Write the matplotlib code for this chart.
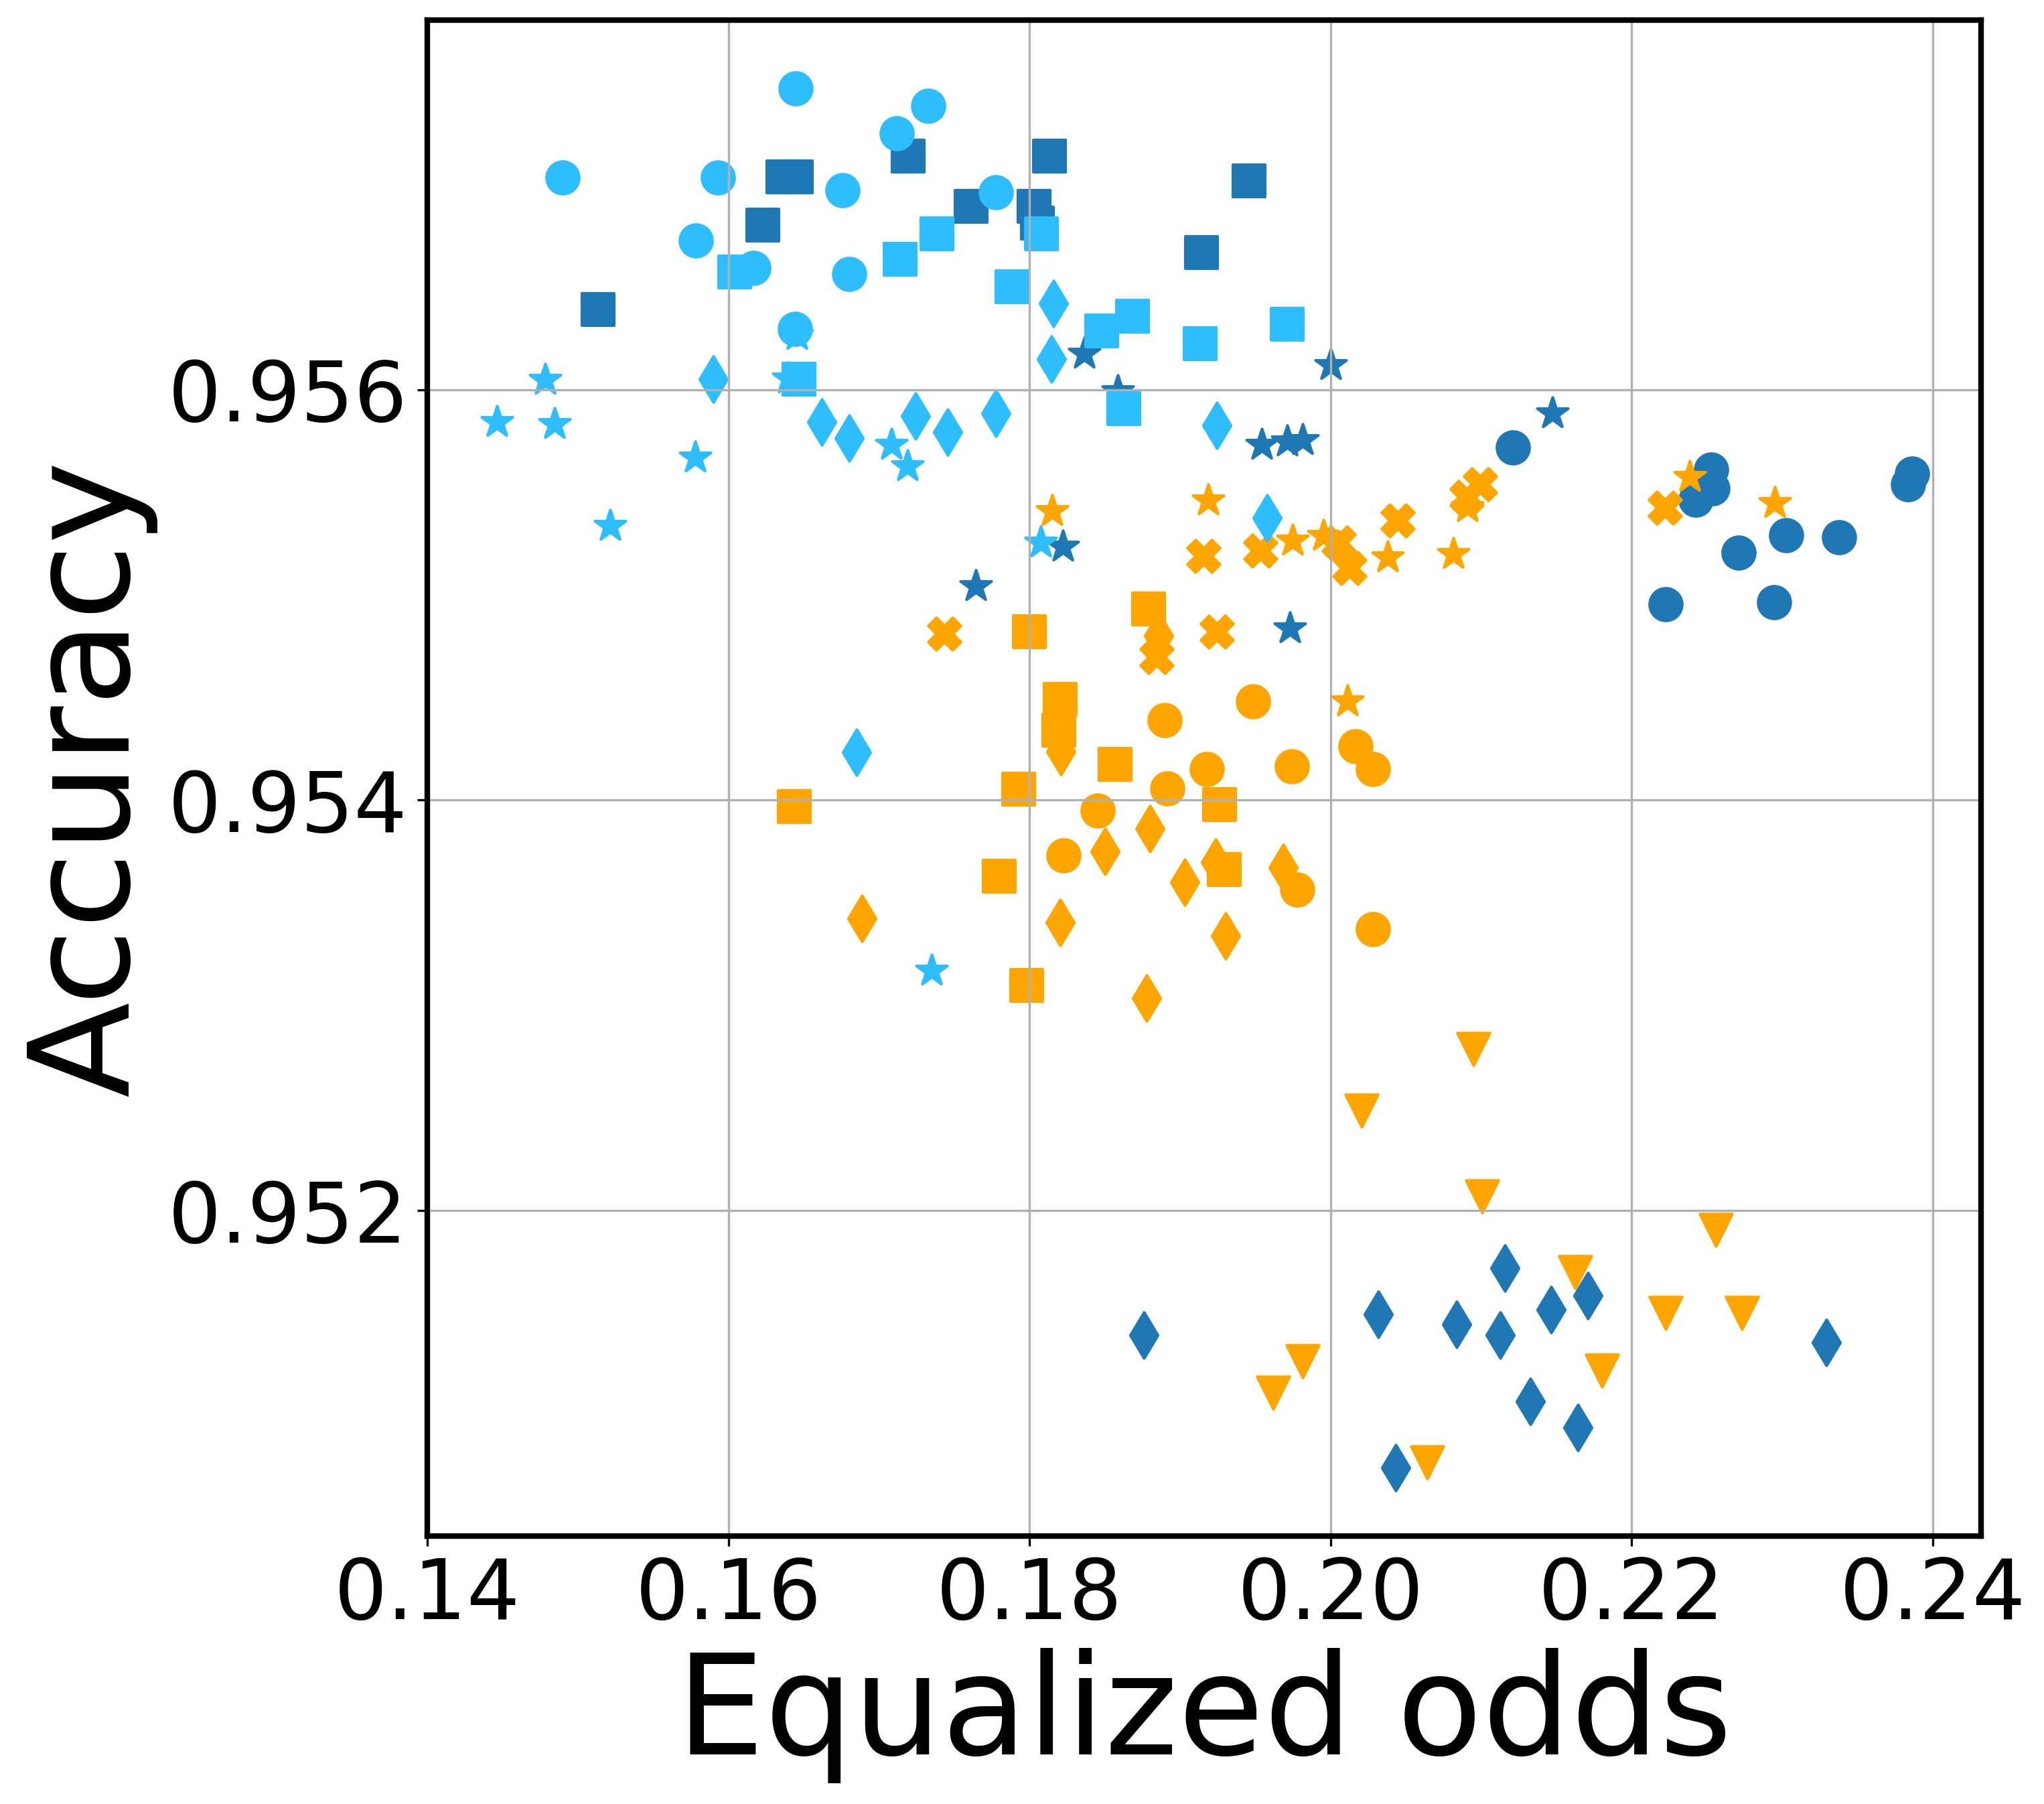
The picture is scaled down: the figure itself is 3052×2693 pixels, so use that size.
import matplotlib
matplotlib.use('Agg')
import matplotlib.pyplot as plt

# colours of the three methods
dark_blue = '#1f77b4'
light_blue = '#2ebdfe'
orange = '#ffa500'

# dark blue groups
db_circle_x = [0.21211, 0.22526, 0.22537, 0.22424, 0.23865, 0.23836, 0.23026, 0.23380, 0.22709, 0.22225, 0.22946]
db_circle_y = [0.955718, 0.955612, 0.955518, 0.955462, 0.955592, 0.955538, 0.955289, 0.955281, 0.955207, 0.954954, 0.954963]

db_square_x = [0.17194, 0.16360, 0.16450, 0.16229, 0.15133, 0.18132, 0.17612, 0.18030, 0.18052, 0.19458, 0.19144]
db_square_y = [0.957139, 0.957037, 0.957037, 0.956802, 0.956391, 0.957139, 0.956894, 0.956894, 0.956811, 0.957017, 0.956668]

db_star_x = [0.18365, 0.20002, 0.18588, 0.19544, 0.19710, 0.19815, 0.21476, 0.18221, 0.17643, 0.19728]
db_star_y = [0.956174, 0.956119, 0.955992, 0.955731, 0.955747, 0.955755, 0.955886, 0.955234, 0.955044, 0.954838]

db_diamond_x = [0.18762, 0.20317, 0.20838, 0.20435, 0.21157, 0.21125, 0.21463, 0.21711, 0.21329, 0.21645, 0.23295]
db_diamond_y = [0.951392, 0.951494, 0.951446, 0.950746, 0.951720, 0.951392, 0.951516, 0.951587, 0.951071, 0.950942, 0.951359]

# orange groups
or_tri_x = [0.20951, 0.20205, 0.21008, 0.19814, 0.19617, 0.20644, 0.21624, 0.21801, 0.22558, 0.22224, 0.22732]
or_tri_y = [0.952787, 0.952487, 0.952069, 0.951266, 0.951113, 0.950772, 0.951699, 0.951220, 0.951906, 0.951502, 0.951502]

or_diamond_x = [0.16889, 0.18860, 0.18798, 0.18503, 0.19236, 0.19031, 0.19684, 0.18203, 0.19301, 0.18776, 0.18209]
or_diamond_y = [0.953422, 0.954800, 0.953862, 0.953751, 0.953699, 0.953600, 0.953672, 0.953403, 0.953340, 0.953035, 0.954237]

or_square_x = [0.16437, 0.18000, 0.18792, 0.18205, 0.18196, 0.18568, 0.17928, 0.19261, 0.17800, 0.19294, 0.17981]
or_square_y = [0.953968, 0.954821, 0.954933, 0.954490, 0.954340, 0.954174, 0.954052, 0.953979, 0.953630, 0.953663, 0.953098]

or_circle_x = [0.19484, 0.18896, 0.20168, 0.20283, 0.19741, 0.19178, 0.18914, 0.18453, 0.18225, 0.19781, 0.20282]
or_circle_y = [0.954481, 0.954389, 0.954264, 0.954150, 0.954163, 0.954150, 0.954058, 0.953948, 0.953732, 0.953565, 0.953372]

or_star_x = [0.18151, 0.19185, 0.19749, 0.19951, 0.20379, 0.20816, 0.20909, 0.22388, 0.22951, 0.20111]
or_star_y = [0.955407, 0.955461, 0.955265, 0.955287, 0.955184, 0.955200, 0.955429, 0.955573, 0.955447, 0.954482]

or_x_x = [0.17433, 0.19155, 0.19536, 0.20053, 0.20127, 0.20446, 0.20995, 0.20906, 0.22222, 0.19243, 0.18844]
or_x_y = [0.954810, 0.955189, 0.955216, 0.955254, 0.955130, 0.955361, 0.955538, 0.955478, 0.955426, 0.954819, 0.954697]

# light blue groups
lb_star_x = [0.16456, 0.16397, 0.14781, 0.14461, 0.14843, 0.17084, 0.17188, 0.15778, 0.15213, 0.18077, 0.17349]
lb_star_y = [0.956266, 0.956055, 0.956048, 0.955842, 0.955831, 0.955731, 0.955628, 0.955668, 0.955337, 0.955255, 0.953169]

lb_square_x = [0.17386, 0.17141, 0.16041, 0.16468, 0.18079, 0.17882, 0.18480, 0.18686, 0.19135, 0.19713, 0.18626]
lb_square_y = [0.956759, 0.956636, 0.956574, 0.956051, 0.956759, 0.956503, 0.956285, 0.956359, 0.956225, 0.956320, 0.955908]

lb_diamond_x = [0.15899, 0.16619, 0.16803, 0.17241, 0.17457, 0.18159, 0.18146, 0.17776, 0.19245, 0.19577, 0.16851]
lb_diamond_y = [0.956051, 0.955842, 0.955763, 0.955873, 0.955794, 0.956419, 0.956150, 0.955886, 0.955826, 0.955374, 0.954234]

lb_circle_x = [0.16447, 0.17328, 0.17117, 0.14899, 0.15932, 0.16760, 0.15784, 0.16167, 0.16804, 0.16444, 0.17776]
lb_circle_y = [0.957467, 0.957384, 0.957250, 0.957035, 0.957035, 0.956973, 0.956728, 0.956593, 0.956562, 0.956297, 0.956963]

x_ticks = [0.14, 0.16, 0.18, 0.20, 0.22, 0.24]
y_ticks = [0.952, 0.954, 0.956]

# drawing order matters for the overlaps
groups = [
    (db_circle_x, db_circle_y, 'o', dark_blue),
    (db_square_x, db_square_y, 's', dark_blue),
    (db_star_x, db_star_y, '*', dark_blue),
    (or_tri_x, or_tri_y, 'v', orange),
    (db_diamond_x, db_diamond_y, 'd', dark_blue),
    (or_diamond_x, or_diamond_y, 'd', orange),
    (or_square_x, or_square_y, 's', orange),
    (or_circle_x, or_circle_y, 'o', orange),
    (or_star_x, or_star_y, '*', orange),
    (or_x_x, or_x_y, 'X', orange),
    (lb_star_x, lb_star_y, '*', light_blue),
    (lb_square_x, lb_square_y, 's', light_blue),
    (lb_diamond_x, lb_diamond_y, 'd', light_blue),
    (lb_circle_x, lb_circle_y, 'o', light_blue),
]

fig = plt.figure(figsize=(3053 / 300, 2693 / 300), dpi=300)
ax = fig.add_axes([0.2090, 0.1485, 0.7598, 0.8403])

for xs, ys, m, c in groups:
    ax.scatter(xs, ys, s=135, marker=m, color=c)

ax.set_xlim(0.14, 0.2432)
ax.set_ylim(0.950414, 0.957800)
ax.set_xticks(x_ticks)
ax.set_yticks(y_ticks)
ax.tick_params(labelsize=30)
ax.set_xlabel('Equalized odds', fontsize=50)
ax.set_ylabel('Accuracy', fontsize=50)
ax.grid(True)
for sp in ax.spines.values():
    sp.set_linewidth(2)

fig.savefig('out.png', dpi=300)
